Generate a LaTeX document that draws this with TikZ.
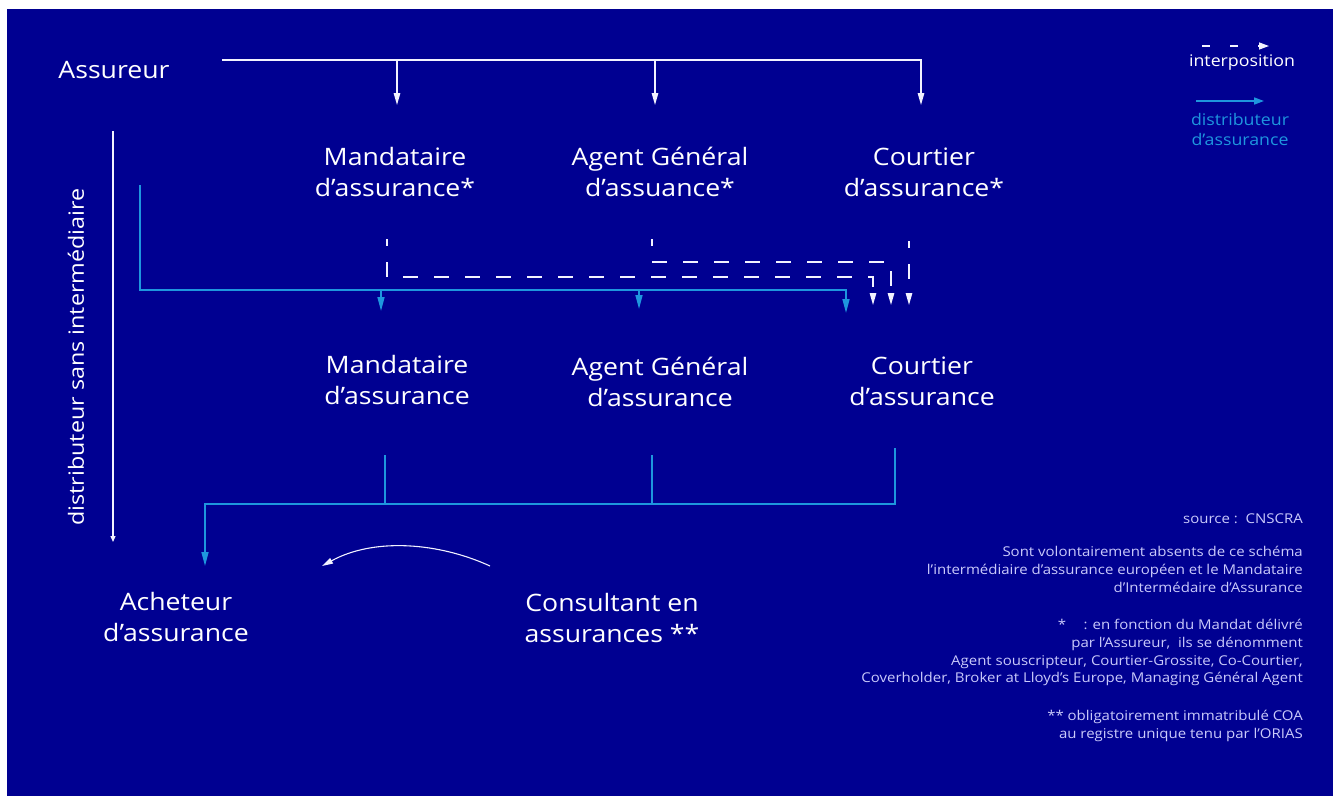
\documentclass[tikz,border=0pt]{standalone}
\usepackage{fontspec}
\setmainfont{Open Sans}[FakeStretch=1.11]
\usetikzlibrary{arrows.meta}
\definecolor{bgblue}{HTML}{000091}
\definecolor{lblue}{RGB}{30,150,222}
\definecolor{lav}{HTML}{CACAFB}
\definecolor{wline}{HTML}{F2F2FF}
\begin{document}
\begin{tikzpicture}[x=1pt,y=-1pt,
 lbl/.style={text=white, font=\fontsize{24}{31}\selectfont, align=center, inner sep=0pt},
 note/.style={text=lav, font=\fontsize{13.5}{17.8}\selectfont, align=right, anchor=north east, inner sep=0pt},
 wl/.style={draw=wline, line width=1.3pt},
 warr/.style={wl, -{Triangle[width=6.5pt,length=12pt]}},
 bl/.style={draw=lblue, line width=1.6pt},
 barr/.style={bl, -{Triangle[width=7pt,length=14pt]}},
 dl/.style={draw=wline, line width=1.3pt, dash pattern=on 15pt off 16pt},
 darr/.style={dl, -{Triangle[width=6.5pt,length=12pt]}}
]
\useasboundingbox (0,0) rectangle (1341,796);
\fill[white] (0,0) rectangle (1341,796);
\fill[bgblue] (7,9) rectangle (1333,796);

% nodes
\node[lbl] (assureur) at (114,70) {Assureur};
\node[lbl] (m1) at (395,172) {Mandataire\\d’assurance*};
\node[lbl] (a1) at (660,172) {Agent Général\\d’assuance*};
\node[lbl] (c1) at (924,172) {Courtier\\d’assurance*};
\node[lbl] (m2) at (397,380) {Mandataire\\d’assurance};
\node[lbl] (a2) at (660,382) {Agent Général\\d’assurance};
\node[lbl] (c2) at (922,381) {Courtier\\d’assurance};
\node[lbl] (acheteur) at (176,617) {Acheteur\\d’assurance};
\node[lbl] (consultant) at (612,618) {Consultant en\\assurances **};
\node[text=white, font=\fontsize{21}{26}\selectfont, rotate=90, inner sep=0pt] (dsi) at (76,357) {distributeur sans intermédiaire};

% legend
\node[text=white, font=\fontsize{16}{20}\selectfont, inner sep=0pt] (interp) at (1242,63) {interposition};
\node[text=lblue, font=\fontsize{16}{20}\selectfont, align=center, inner sep=0pt] (distlg) at (1240,129) {distributeur\\d’assurance};
\coordinate (ld0) at (1202,46); \coordinate (ld1) at (1269,46);
\coordinate (lb0) at (1196,101); \coordinate (lb1) at (1264,101);
\draw[draw=wline, line width=1.3pt, dash pattern=on 8pt off 20pt, -{Triangle[width=7pt,length=10pt]}] (ld0) -- (ld1);
\draw[bl, -{Triangle[width=7pt,length=10pt]}] (lb0) -- (lb1);

% notes
\node[note] (src) at (1303,514) {source :\ \ CNSCRA};
\node[note] (abs) at (1303,546) {Sont volontairement absents de ce schéma\\l’intermédiaire d’assurance européen et le Mandataire\\d’Intermédaire d’Assurance};
\node[note] (star) at (1303,619) {*\quad\ : en fonction du Mandat délivré\\par l’Assureur,\ \ ils se dénomment\\Agent souscripteur, Courtier-Grossite, Co-Courtier,\\Coverholder, Broker at Lloyd’s Europe, Managing Général Agent};
\node[note] (dstar) at (1303,710) {** obligatoirement immatribulé COA\hspace{4pt}\\au registre unique tenu par l’ORIAS};

% top white connectors
\coordinate (t0) at (222,60);
\draw[warr] (t0) -| (921,105);
\draw[warr] (397,60) -- (397,105);
\draw[warr] (655,60) -- (655,105);

% left vertical arrow
\draw[draw=wline, line width=1.3pt, -{Triangle[width=5pt,length=6pt]}] (113,131) -- (113,542);

% blue distribution lines
\draw[barr] (140,185) |- (846,290) -- (846,313);
\draw[barr] (381,290) -- (381,311);
\draw[barr] (639,290) -- (639,309);

% dashed interposition
\draw[darr, dash phase=8pt] (387,239) |- (873,277) -- (873,305);
\draw[darr, dash phase=8pt] (652,239) |- (891,262) -- (891,305);
\draw[darr, dash phase=8pt] (909,241) -- (909,305);

% bottom blue
\draw[bl] (385,455) -- (385,504);
\draw[bl] (652,455) -- (652,504);
\draw[barr] (895,448) |- (205,504) -- (205,566);

% curved arrow
\draw[draw=wline, line width=1.1pt, -{Triangle[width=6pt,length=11pt]}] (490,566) .. controls (440,543) and (375,537) .. (322,566);
\end{tikzpicture}
\end{document}
